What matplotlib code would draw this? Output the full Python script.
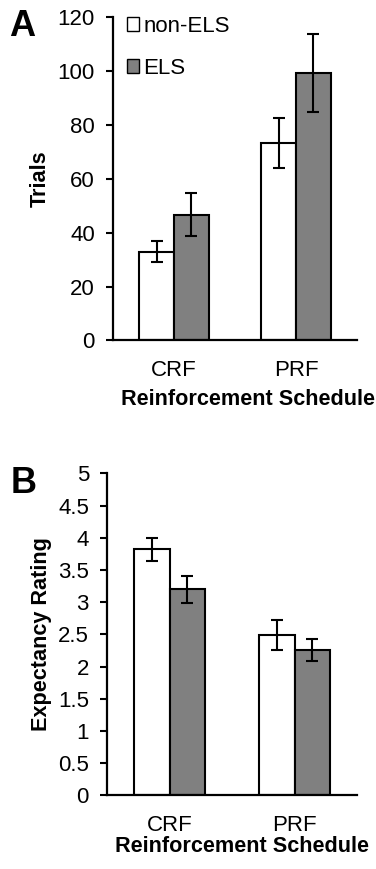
import matplotlib
matplotlib.use("Agg")
import matplotlib.pyplot as plt
import numpy as np
from matplotlib.patches import Patch

plt.rcParams['font.family'] = ['Liberation Sans', 'DejaVu Sans']

# data
schedules = ['CRF', 'PRF']
groups = ['non-ELS', 'ELS']

trials_non_els = [33.0, 73.4]
trials_els = [46.8, 99.2]
trials_err_non_els = [3.8, 9.2]
trials_err_els = [8.1, 14.5]

rating_non_els = [3.82, 2.49]
rating_els = [3.20, 2.26]
rating_err_non_els = [0.18, 0.23]
rating_err_els = [0.21, 0.17]

trials_ticks = [0, 20, 40, 60, 80, 100, 120]
rating_ticks = [0, 0.5, 1, 1.5, 2, 2.5, 3, 3.5, 4, 4.5, 5]
rating_ticklabels = ['0', '0.5', '1', '1.5', '2', '2.5', '3', '3.5', '4', '4.5', '5']

colors = ['white', '#808080']
width = 0.286
fs = 16
lfs = 15.6
lw = 1.5

fig = plt.figure(figsize=(3.76, 8.69), dpi=100)
axA = fig.add_axes([0.3005, 0.6082, 0.649, 0.3717])
axB = fig.add_axes([0.2846, 0.0846, 0.665, 0.3707])


def draw_panel(ax, v1, e1, v2, e2, ymax):
    x = np.arange(len(schedules))
    ax.bar(x - width / 2, v1, width, color=colors[0], edgecolor='black', linewidth=lw, zorder=2)
    ax.bar(x + width / 2, v2, width, color=colors[1], edgecolor='black', linewidth=lw, zorder=2)
    ax.errorbar(x - width / 2, v1, yerr=e1, fmt='none', ecolor='black',
                elinewidth=lw, capsize=4, capthick=lw, zorder=3)
    ax.errorbar(x + width / 2, v2, yerr=e2, fmt='none', ecolor='black',
                elinewidth=lw, capsize=4, capthick=lw, zorder=3)
    ax.set_xlim(-0.5, 1.5)
    ax.set_ylim(0, ymax)
    ax.set_xticks(x)
    ax.set_xticklabels(schedules, fontsize=fs)
    ax.tick_params(axis='x', length=0, pad=14)
    ax.tick_params(axis='y', length=5, width=lw, pad=8, labelsize=fs)
    for s in ['top', 'right']:
        ax.spines[s].set_visible(False)
    for s in ['left', 'bottom']:
        ax.spines[s].set_linewidth(1.6)


draw_panel(axA, trials_non_els, trials_err_non_els, trials_els, trials_err_els, 120)
axA.set_yticks(trials_ticks)
axA.set_ylabel('Trials', fontsize=lfs, fontweight='bold', va='center')
axA.yaxis.set_label_coords(-0.299, 0.5)
axA.set_xlabel('Reinforcement Schedule', fontsize=lfs, fontweight='bold', va='center')
axA.xaxis.set_label_coords(0.553, -0.184)

handles = [Patch(facecolor=c, edgecolor='black', linewidth=1.0) for c in colors]
axA.legend(handles, groups, loc='upper left', bbox_to_anchor=(0.057, 1.005),
           frameon=False, fontsize=fs, handlelength=0.55, handleheight=0.55,
           handletextpad=0.2, labelspacing=0.95, borderpad=0, borderaxespad=0)

draw_panel(axB, rating_non_els, rating_err_non_els, rating_els, rating_err_els, 5)
axB.set_yticks(rating_ticks)
axB.set_yticklabels(rating_ticklabels)
axB.set_ylabel('Expectancy Rating', fontsize=lfs, fontweight='bold', va='center')
axB.yaxis.set_label_coords(-0.261, 0.5)
axB.set_xlabel('Reinforcement Schedule', fontsize=lfs, fontweight='bold', va='center')
axB.xaxis.set_label_coords(0.539, -0.159)

# panel letters
fig.text(9 / 376, 1 - 36 / 869, 'A', fontsize=26, fontweight='bold', ha='left', va='baseline')
fig.text(11 / 376, 1 - 493 / 869, 'B', fontsize=26, fontweight='bold', ha='left', va='baseline')

fig.savefig('out.png', dpi=100)
